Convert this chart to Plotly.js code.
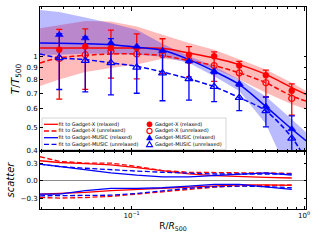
<!DOCTYPE html>
<html><head><meta charset="utf-8">
<script src="https://cdn.plot.ly/plotly-3.0.1.min.js"></script>
<style>html,body{margin:0;padding:0;background:#fff}#chart{width:320px;height:240px}</style>
</head><body><div id="chart"></div>
<script>
// ---- data ----
const radius = [0.038, 0.0538, 0.0758, 0.107, 0.151, 0.215, 0.301, 0.421, 0.601, 0.849];
const gxRelaxed     = [1.067, 1.100, 1.084, 1.085, 1.056, 1.016, 1.000, 0.914, 0.833, 0.716];
const gxUnrelaxed   = [0.980, 1.016, 1.049, 1.023, 1.016, 0.959, 0.914, 0.852, 0.774, 0.665];
const gxUnrelErr    = [0.32, 0.29, 0.24, 0.22, 0.17, 0.14, 0.13, 0.10, 0.10, 0.10];
const gmRelaxed     = [1.232, 1.194, 1.138, 1.101, 1.056, 0.953, 0.866, 0.766, 0.614, 0.494];
const gmUnrelaxed   = [0.985, 0.959, 0.938, 0.899, 0.850, 0.804, 0.745, 0.670, 0.589, 0.451];
const gmUnrelErr    = [0.26, 0.25, 0.25, 0.20, 0.20, 0.15, 0.10, 0.08, 0.085, 0.11];

const fitR          = [0.0294, 0.038, 0.0538, 0.0758, 0.107, 0.151, 0.215, 0.301, 0.421, 0.601, 0.849, 1.027];
const fitGxRel      = [1.084, 1.084, 1.084, 1.084, 1.084, 1.082, 1.033, 0.985, 0.923, 0.839, 0.738, 0.691];
const fitGxUnrel    = [0.938, 0.985, 1.010, 1.023, 1.023, 1.007, 0.959, 0.914, 0.852, 0.774, 0.680, 0.648];
const fitGmRel      = [1.138, 1.136, 1.130, 1.119, 1.093, 1.060, 0.969, 0.866, 0.761, 0.614, 0.494, 0.441];
const fitGmUnrel    = [1.023, 0.985, 0.969, 0.938, 0.908, 0.859, 0.804, 0.745, 0.670, 0.589, 0.456, 0.366];
const bandGxUpper   = [1.315, 1.357, 1.410, 1.401, 1.335, 1.232, 1.138, 1.067, 0.975, 0.880, 0.774, 0.714];
const bandGxLower   = [0.749, 0.799, 0.859, 0.894, 0.923, 0.978, 0.953, 0.886, 0.799, 0.703, 0.628, 0.598];
const bandGmUpper   = [1.568, 1.538, 1.459, 1.380, 1.293, 1.130, 1.000, 0.908, 0.799, 0.678, 0.543, 0.479];
const bandGmLower   = [1.016, 1.016, 1.026, 1.026, 1.016, 0.997, 0.938, 0.825, 0.714, 0.518, 0.300, 0.250];

const scR = [0.0294, 0.038, 0.0538, 0.0758, 0.107, 0.151, 0.215, 0.301, 0.421, 0.601, 0.849];
const scGxUnrelUp = [0.42, 0.34, 0.31, 0.31, 0.25, 0.18, 0.15, 0.14, 0.14, 0.14, 0.13];
const scGxRelUp   = [0.35, 0.32, 0.30, 0.28, 0.23, 0.18, 0.12, 0.09, 0.07, 0.06, 0.05];
const scGmUnrelUp = [0.29, 0.25, 0.22, 0.19, 0.17, 0.15, 0.13, 0.12, 0.12, 0.12, 0.12];
const scGmRelUp   = [0.29, 0.25, 0.19, 0.14, 0.10, 0.07, 0.07, 0.09, 0.12, 0.14, 0.10];
const scGxUnrelLo = [-0.29, -0.30, -0.29, -0.27, -0.23, -0.19, -0.15, -0.11, -0.09, -0.08, -0.07];
const scGxRelLo   = [-0.23, -0.22, -0.20, -0.17, -0.15, -0.13, -0.10, -0.08, -0.07, -0.07, -0.08];
const scGmRelLo   = [-0.23, -0.23, -0.17, -0.13, -0.13, -0.12, -0.09, -0.06, -0.06, -0.10, -0.15];
const scGmUnrelLo = [-0.26, -0.26, -0.26, -0.25, -0.22, -0.17, -0.13, -0.10, -0.09, -0.10, -0.12];

const topTickVals = [0.4, 0.5, 0.6, 0.7, 0.8, 0.9, 1];
const topTickText = ['0.4', '0.5', '0.6', '0.7', '0.8', '0.9', '1'];
const botTickVals = [-0.3, 0, 0.3];
const botTickText = ['\u22120.3', '0.0', '0.3'];
const xTickVals = [0.1, 1];
const xTickText = ['10<sup>\u22121</sup>', '10<sup>0</sup>'];
const xMinor = [0.03,0.04,0.05,0.06,0.07,0.08,0.09,0.2,0.3,0.4,0.5,0.6,0.7,0.8,0.9];

const legendFits = ['fit to Gadget-X (relaxed)', 'fit to Gadget-X (unrelaxed)', 'fit to Gadget-MUSIC (relaxed)', 'fit to Gadget-MUSIC (unrelaxed)'];
const legendPts  = ['Gadget-X (relaxed)', 'Gadget-X (unrelaxed)', 'Gadget-MUSIC (relaxed)', 'Gadget-MUSIC (unrelaxed)'];

// ---- styles ----
const RED = '#ff0000', BLUE = '#0000ff';
const DASH = '5px,2.5px';
const rev = a => a.slice().reverse();

const traces = [];
function band(up, lo, col) {
  traces.push({x: fitR.concat(rev(fitR)), y: up.concat(rev(lo)), fill: 'toself', fillcolor: col,
    mode: 'lines', line: {width: 0, color: 'rgba(0,0,0,0)'}, hoverinfo: 'skip', xaxis: 'x', yaxis: 'y'});
}
band(bandGxUpper, bandGxLower, 'rgba(255,0,0,0.27)');
band(bandGmUpper, bandGmLower, 'rgba(0,0,255,0.27)');

function fit(y, col, dash) {
  traces.push({x: fitR, y: y, mode: 'lines', line: {color: col, width: 1.5, dash: dash ? DASH : 'solid', shape: 'spline', smoothing: 0.8}, xaxis: 'x', yaxis: 'y'});
}
fit(fitGxRel, RED, false); fit(fitGxUnrel, RED, true);
fit(fitGmRel, BLUE, false); fit(fitGmUnrel, BLUE, true);

function pts(y, err, col, sym, open) {
  const t = {x: radius, y: y, mode: 'markers', xaxis: 'x', yaxis: 'y',
    marker: {symbol: sym, size: sym.indexOf('triangle') === 0 ? 7 : 6, color: col, line: {color: col, width: open ? 1.2 : 0.5}}};
  if (err) t.error_y = {type: 'data', array: err, visible: true, color: col, thickness: 1.3, width: 3};
  traces.push(t);
}
pts(gxUnrelaxed, gxUnrelErr, RED, 'circle-open', true);
pts(gmUnrelaxed, gmUnrelErr, BLUE, 'triangle-up-open', true);
pts(gxRelaxed, null, RED, 'circle', false);
pts(gmRelaxed, null, BLUE, 'triangle-up', false);

function sc(y, col, dash) {
  traces.push({x: scR, y: y, mode: 'lines', line: {color: col, width: 1.3, dash: dash ? DASH : 'solid'}, xaxis: 'x2', yaxis: 'y2'});
}
sc(scGxRelUp, RED, false); sc(scGxUnrelUp, RED, true);
sc(scGmRelUp, BLUE, false); sc(scGmUnrelUp, BLUE, true);
sc(scGxRelLo, RED, false); sc(scGxUnrelLo, RED, true);
sc(scGmRelLo, BLUE, false); sc(scGmUnrelLo, BLUE, true);

// ---- legend (drawn by hand: two compact columns inside the upper panel) ----
const W = 266, H = 202, L = 40, T = 7;
const px = v => (v - L) / W, py = v => (T + H - v) / H;
const rows = [124.3, 131, 137.7, 144.3];
const LEGFONT = {family: 'DejaVu Sans', size: 5, color: '#000'};
traces.push({x: rows.map(() => px(58.5)).concat(rows.map(() => px(155))),
  y: rows.map(py).concat(rows.map(py)), text: legendFits.concat(legendPts),
  mode: 'text', textposition: 'middle right', textfont: LEGFONT, hoverinfo: 'skip', xaxis: 'x3', yaxis: 'y3', cliponaxis: false});

const shapes = [{type: 'rect', xref: 'paper', yref: 'paper', x0: px(42), x1: px(226), y0: py(149.5), y1: py(118),
  line: {color: '#cccccc', width: 0.8}, fillcolor: 'rgba(255,255,255,0.8)', layer: 'below'}];
const fitStyles = [[RED, 'solid'], [RED, DASH], [BLUE, 'solid'], [BLUE, DASH]];
rows.forEach((r, i) => {
  shapes.push({type: 'line', xref: 'paper', yref: 'paper', x0: px(44), x1: px(58), y0: py(r), y1: py(r),
    line: {color: fitStyles[i][0], width: 1.3, dash: fitStyles[i][1]}, layer: 'above'});
  const col = i < 2 ? RED : BLUE;
  const open = i % 2 === 1;
  const base = {xref: 'paper', yref: 'paper', xsizemode: 'pixel', ysizemode: 'pixel', xanchor: px(149.5), yanchor: py(r),
    fillcolor: open ? 'white' : col, line: {color: col, width: open ? 1.1 : 0.6}, layer: 'above'};
  if (i < 2) shapes.push(Object.assign({type: 'circle', x0: -2.6, x1: 2.6, y0: -2.6, y1: 2.6}, base));
  else shapes.push(Object.assign({type: 'path', path: 'M-3,-2.3L3,-2.3L0,2.9Z'}, base));
});

// ---- layout ----
const axCommon = {showline: true, linecolor: '#000', linewidth: 1, mirror: 'allticks', ticks: 'inside',
  tickcolor: '#000', tickwidth: 0.8, showgrid: false, zeroline: false};
const xCommon = Object.assign({}, axCommon, {type: 'log', range: [-1.532, 0.0116], tickmode: 'array',
  tickvals: xTickVals, ticktext: xTickText, ticklen: 3.5,
  minor: {ticks: 'inside', tickmode: 'array', tickvals: xMinor, ticklen: 2, tickwidth: 0.6, tickcolor: '#000', showgrid: false}});

const layout = {
  width: 320, height: 240, margin: {l: L, r: 320 - L - W, t: T, b: 240 - T - H, pad: 0},
  paper_bgcolor: '#fff', plot_bgcolor: 'rgba(0,0,0,0)', showlegend: false,
  font: {family: 'DejaVu Sans', size: 7, color: '#000'},
  xaxis: Object.assign({}, xCommon, {anchor: 'y', showticklabels: false}),
  xaxis2: Object.assign({}, xCommon, {anchor: 'y2', matches: 'x', showticklabels: true,
    title: {text: 'R/<i>R</i><sub>500</sub>', font: {size: 9}, standoff: 3}}),
  xaxis3: {domain: [0, 1], range: [0, 1], visible: false, fixedrange: true, anchor: 'y3'},
  yaxis: Object.assign({}, axCommon, {type: 'log', domain: [0.2871, 1], range: [-0.399, 0.208], anchor: 'x',
    tickmode: 'array', tickvals: topTickVals, ticktext: topTickText, ticklen: 2.5,
    title: {text: '<i>T</i>/<i>T</i><sub>500</sub>', font: {size: 10.5}, standoff: 4}}),
  yaxis2: Object.assign({}, axCommon, {domain: [0, 0.2871], range: [-0.49, 0.52], anchor: 'x2',
    tickmode: 'array', tickvals: botTickVals, ticktext: botTickText, ticklen: 2.5,
    zeroline: true, zerolinecolor: '#8c8c8c', zerolinewidth: 1,
    title: {text: '<i>scatter</i>', font: {size: 10}, standoff: 4}}),
  yaxis3: {domain: [0, 1], range: [0, 1], visible: false, fixedrange: true, anchor: 'x3'},
  shapes: shapes
};
Plotly.newPlot('chart', traces, layout, {displayModeBar: false});
</script></body></html>
